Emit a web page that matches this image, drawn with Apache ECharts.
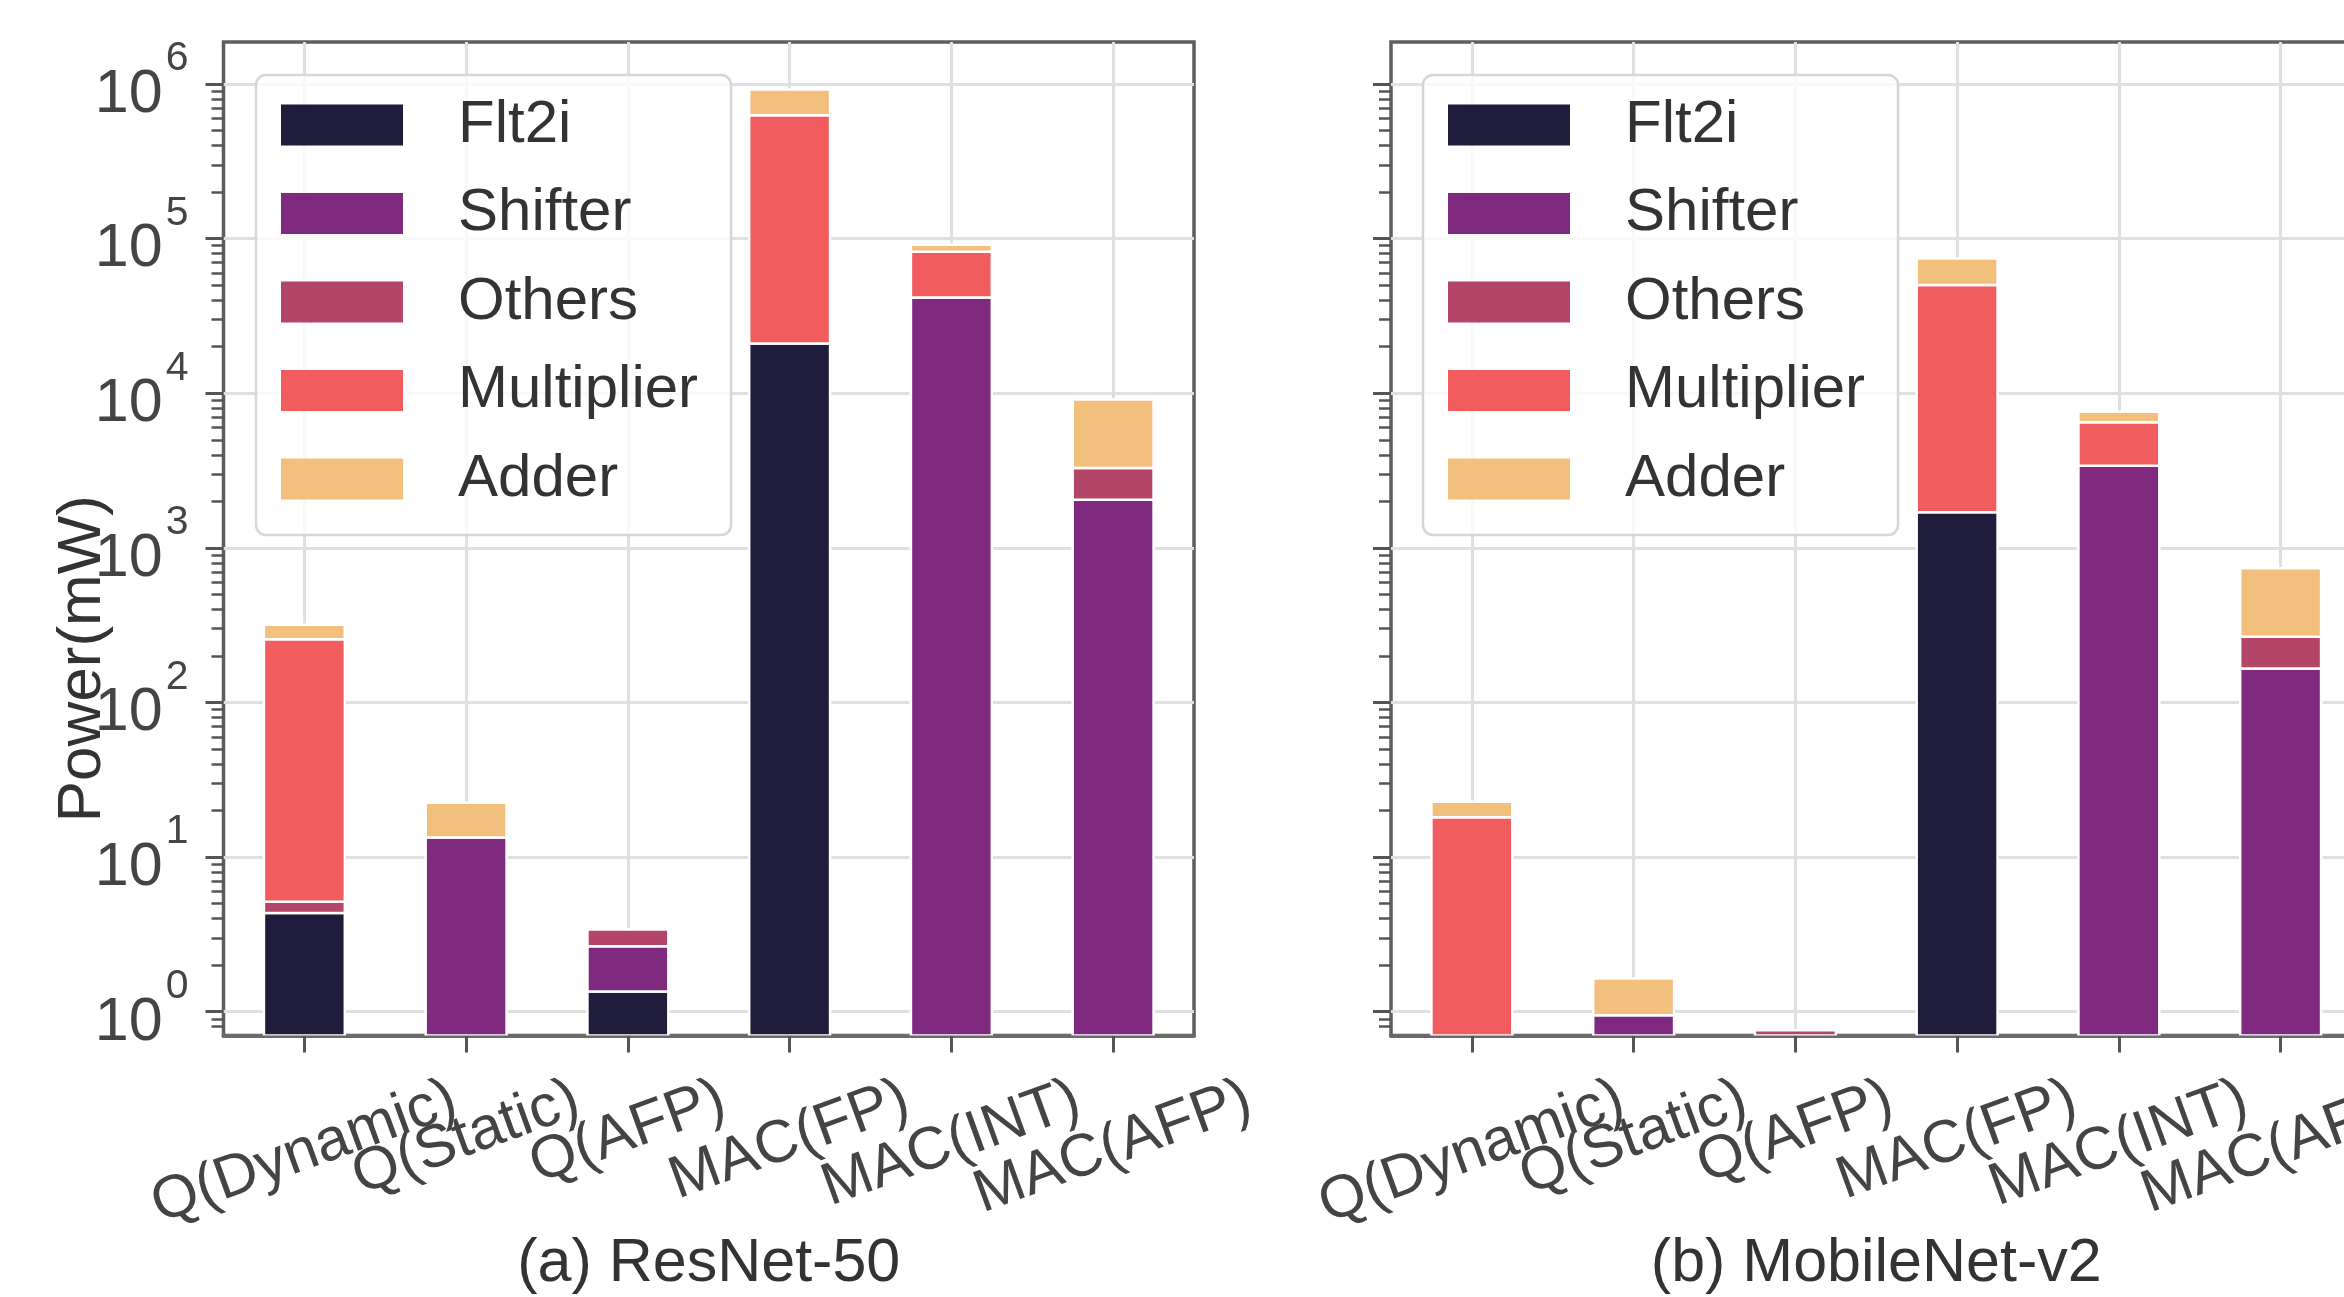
<!DOCTYPE html>
<html><head><meta charset="utf-8">
<script src="https://cdn.jsdelivr.net/npm/echarts@6/dist/echarts.min.js"></script>
<style>html,body{margin:0;padding:0;background:#fff}#c{width:2344px;height:1297px}</style>
</head><body><div id="c"></div>
<script>
// ---------------- data ----------------
const categories = ['Q(Dynamic)', 'Q(Static)', 'Q(AFP)', 'MAC(FP)', 'MAC(INT)', 'MAC(AFP)'];
const components = ['Flt2i', 'Shifter', 'Others', 'Multiplier', 'Adder'];
const componentColors = ['#201c3c', '#7f2a7f', '#b34568', '#f15d5f', '#f3bf7c'];
const panelTitles = ['(a) ResNet-50', '(b) MobileNet-v2'];

// ResNet-50 power (mW) per component
const resnetFlt2i      = [4.35, 0,    1.35, 21000,  0,     0];
const resnetShifter    = [0,    13.4, 1.30, 0,      41700, 2045];
const resnetOthers     = [0.8,  0,    0.75, 0,      0,     1245];
const resnetMultiplier = [251,  0,    0,    607000, 40500, 0];
const resnetAdder      = [62,   9.1,  0,    294000, 9200,  5830];

// MobileNet-v2 power (mW) per component
const mobileFlt2i      = [0,    0,    0,    1700,  0,    0];
const mobileShifter    = [0,    0.95, 0,    0,     3400, 166];
const mobileOthers     = [0,    0,    0.76, 0,     0,    100];
const mobileMultiplier = [18.1, 0,    0,    48500, 3100, 0];
const mobileAdder      = [4.7,  0.69, 0,    24300, 1085, 472];

// axis ticks
const majorTicks = [1, 10, 100, 1000, 10000, 100000, 1000000];
const minorTicks = [0.7, 0.8, 0.9,
  2, 3, 4, 5, 6, 7, 8, 9,
  20, 30, 40, 50, 60, 70, 80, 90,
  200, 300, 400, 500, 600, 700, 800, 900,
  2000, 3000, 4000, 5000, 6000, 7000, 8000, 9000,
  20000, 30000, 40000, 50000, 60000, 70000, 80000, 90000,
  200000, 300000, 400000, 500000, 600000, 700000, 800000, 900000];
const yMin = 0.702, yMax = 1.87e6;

const panels = [
  [resnetFlt2i, resnetShifter, resnetOthers, resnetMultiplier, resnetAdder],
  [mobileFlt2i, mobileShifter, mobileOthers, mobileMultiplier, mobileAdder]
];

// ---------------- layout / style ----------------
const FONT = '"Liberation Sans", Arial, Helvetica, sans-serif';
const gridLefts = [223.5, 1391];
const gridTop = 42, gridW = 970.5, gridH = 993.5;
const legendLefts = [256, 1423];

// x label positioning (matplotlib-like: rotated bbox tops aligned)
const meas = document.createElement('canvas').getContext('2d');
meas.font = '60px ' + FONT;
const labelLens = categories.map(c => meas.measureText(c).width);
const Lmin = Math.min.apply(null, labelLens);
const th = 20 * Math.PI / 180;
const xRich = {};
categories.forEach((c, i) => {
  const d = (labelLens[i] - Lmin) * Math.sin(th) / 2;
  xRich['t' + i] = {
    fontSize: 60, fontFamily: FONT, color: '#444', lineHeight: 60,
    padding: [2 * d * Math.cos(th), 2 * d * Math.sin(th), 0, 0]
  };
});
const xMargin = 62.5 + Math.sin(th) / 2 * Lmin;

function renderBar(params, api) {
  const ci = api.value(0), lo = api.value(1), hi = api.value(2);
  if (!(hi > lo) || hi <= yMin) return;
  const base = Math.max(lo, yMin);
  const pTop = api.coord([ci, hi]);
  const pBase = api.coord([ci, base]);
  const bw = api.size([1, 0])[0] * 0.5;
  return {
    type: 'rect',
    shape: { x: pTop[0] - bw / 2, y: pTop[1], width: bw, height: pBase[1] - pTop[1] },
    style: { fill: api.visual('color'), stroke: '#ffffff', lineWidth: 2.5 }
  };
}

const grids = [], xAxes = [], yAxes = [], series = [], legends = [];
[0, 1].forEach(k => {
  grids.push({ left: gridLefts[k], top: gridTop, width: gridW, height: gridH,
    show: true, borderColor: '#5e5e5e', borderWidth: 3.5, backgroundColor: 'transparent',
    outerBoundsMode: 'none', containLabel: false });
  xAxes.push({
    type: 'category', gridIndex: k, data: categories, boundaryGap: true,
    axisLine: { show: true, lineStyle: { color: '#6a6a6a', width: 4 } },
    axisTick: { show: true, alignWithLabel: true, length: 17, lineStyle: { color: '#555', width: 3 } },
    splitLine: { show: true, alignWithLabel: true, interval: 0, lineStyle: { color: '#e0e0e0', width: 3 } },
    axisLabel: {
      interval: 0, rotate: 20, align: 'center', verticalAlign: 'middle', margin: xMargin,
      fontSize: 60, fontFamily: FONT, color: '#444',
      formatter: (v, i) => '{t' + i + '|' + v + '}', rich: xRich
    },
    name: panelTitles[k], nameLocation: 'middle', nameGap: 198, nameMoveOverlap: false,
    nameTextStyle: { fontSize: 61, fontFamily: FONT, color: '#333', lineHeight: 62 }
  });
  // major log axis
  yAxes.push({
    type: 'log', logBase: 10, gridIndex: k, position: 'left', min: yMin, max: yMax,
    axisLine: { show: false },
    axisTick: { show: true, customValues: majorTicks, length: 18, lineStyle: { color: '#555', width: 3 } },
    splitLine: { show: true, lineStyle: { color: '#e0e0e0', width: 3 } },
    minorTick: { show: false }, minorSplitLine: { show: false },
    axisLabel: {
      show: k === 0, customValues: majorTicks, margin: 35, align: 'right',
      formatter: v => '{b|10}{s|' + Math.round(Math.log10(v)) + '}',
      rich: {
        b: { fontSize: 61, fontFamily: FONT, color: '#444', lineHeight: 60, padding: [22, 3, 0, 0] },
        s: { fontSize: 41, fontFamily: FONT, color: '#444', lineHeight: 40, padding: [0, 0, 50, 0] }
      }
    },
    name: k === 0 ? 'Power(mW)' : '', nameLocation: 'middle', nameGap: 110, nameMoveOverlap: false,
    nameTextStyle: { fontSize: 62, fontFamily: FONT, color: '#333', lineHeight: 62, padding: [0, 240, 0, 0] }
  });
  // minor log axis (ticks only)
  yAxes.push({
    type: 'log', logBase: 10, gridIndex: k, position: 'left', offset: 0, min: yMin, max: yMax,
    axisLine: { show: false },
    axisTick: { show: true, customValues: minorTicks, length: 12, lineStyle: { color: '#555', width: 2.5 } },
    splitLine: { show: false }, axisLabel: { show: false }
  });
  const vals = panels[k];
  const cum = categories.map(() => 0);
  components.forEach((name, j) => {
    const data = categories.map((c, i) => {
      const lo = cum[i];
      const hi = lo + vals[j][i];
      cum[i] = hi;
      return [i, lo, hi];
    });
    series.push({
      type: 'custom', name: name, coordinateSystem: 'cartesian2d',
      xAxisIndex: k, yAxisIndex: 2 * k,
      itemStyle: { color: componentColors[j] },
      encode: { x: 0, y: 2 },
      renderItem: renderBar, data: data, clip: true
    });
  });
  legends.push({
    show: true, orient: 'vertical', left: legendLefts[k], top: 75,
    data: components, icon: 'rect', itemWidth: 122, itemHeight: 41, itemGap: 28.5,
    padding: [20, 33, 26, 25],
    backgroundColor: 'rgba(255,255,255,0.8)', borderColor: '#d6d6d6', borderWidth: 2.5, borderRadius: 10,
    selectedMode: false,
    textStyle: { fontSize: 60, fontFamily: FONT, color: '#333', lineHeight: 41, padding: [0, 0, 0, 50] }
  });
});

const chart = echarts.init(document.getElementById('c'), null, { renderer: 'canvas' });
chart.setOption({
  backgroundColor: '#ffffff',
  animation: false,
  color: componentColors,
  grid: grids, xAxis: xAxes, yAxis: yAxes, legend: legends, series: series
});
</script></body></html>
